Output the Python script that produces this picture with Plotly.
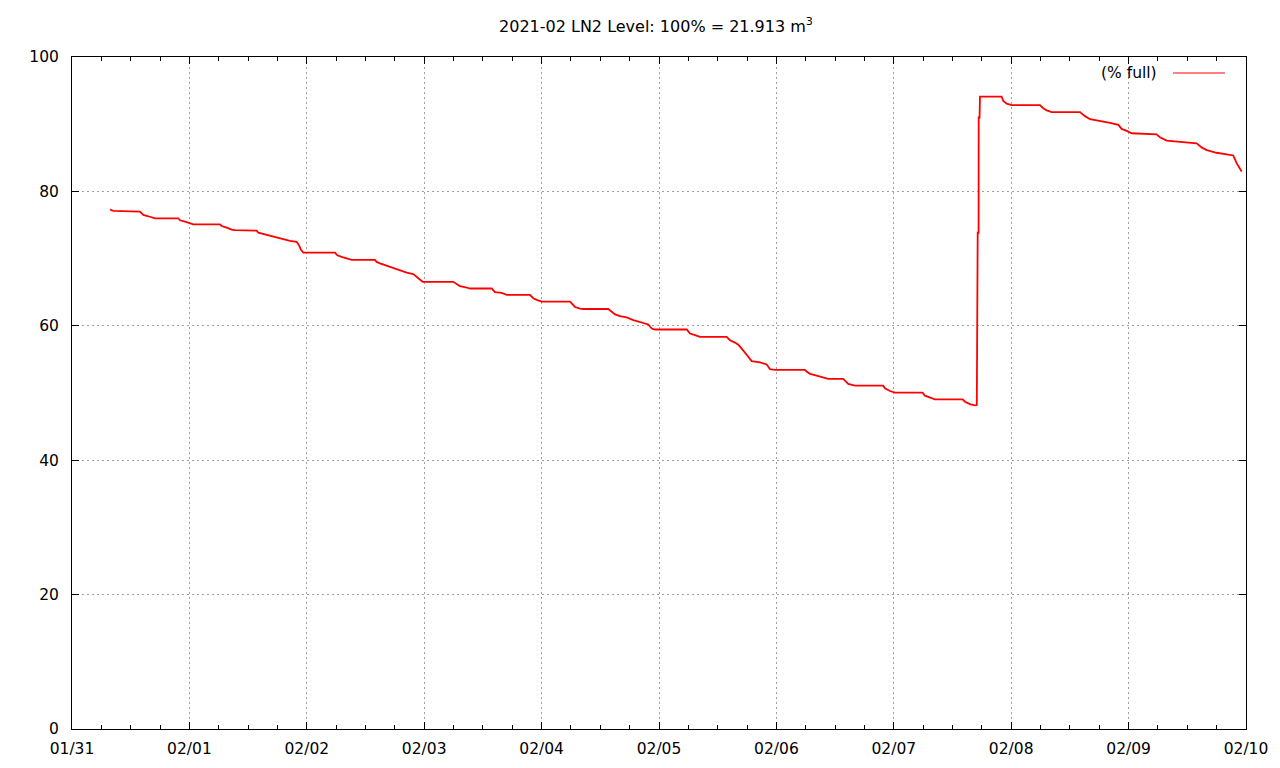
import plotly.graph_objects as go

# time stamps (2021) and LN2 level in % full
times = [
    "2021-01-31 07:46", "2021-01-31 08:26", "2021-01-31 13:54", "2021-01-31 14:15", "2021-01-31 14:35",
    "2021-01-31 15:36", "2021-01-31 16:37", "2021-01-31 16:58", "2021-01-31 21:44", "2021-01-31 22:05",
    "2021-01-31 23:06", "2021-02-01 00:07", "2021-02-01 00:48", "2021-02-01 06:15", "2021-02-01 06:36",
    "2021-02-01 07:37", "2021-02-01 08:39", "2021-02-01 09:19", "2021-02-01 13:45", "2021-02-01 14:05",
    "2021-02-01 15:07", "2021-02-01 16:29", "2021-02-01 17:51", "2021-02-01 19:12", "2021-02-01 20:34",
    "2021-02-01 21:56", "2021-02-01 22:28", "2021-02-01 22:49", "2021-02-01 23:17", "2021-02-02 05:46",
    "2021-02-02 06:14", "2021-02-02 07:08", "2021-02-02 08:29", "2021-02-02 09:11", "2021-02-02 13:57",
    "2021-02-02 14:17", "2021-02-02 14:58", "2021-02-02 15:59", "2021-02-02 16:40", "2021-02-02 18:02",
    "2021-02-02 19:24", "2021-02-02 20:25", "2021-02-02 21:46", "2021-02-02 22:28", "2021-02-02 23:08",
    "2021-02-02 23:41", "2021-02-03 05:57", "2021-02-03 06:38", "2021-02-03 07:19", "2021-02-03 08:41",
    "2021-02-03 09:22", "2021-02-03 13:48", "2021-02-03 14:28", "2021-02-03 15:50", "2021-02-03 16:52",
    "2021-02-03 21:38", "2021-02-03 22:18", "2021-02-03 23:00", "2021-02-04 00:01", "2021-02-04 05:49",
    "2021-02-04 06:22", "2021-02-04 06:50", "2021-02-04 07:51", "2021-02-04 08:32", "2021-02-04 13:38",
    "2021-02-04 14:20", "2021-02-04 15:01", "2021-02-04 16:02", "2021-02-04 17:24", "2021-02-04 18:45",
    "2021-02-04 20:07", "2021-02-04 21:08", "2021-02-04 21:49", "2021-02-04 22:31", "2021-02-04 23:11",
    "2021-02-05 05:40", "2021-02-05 06:20", "2021-02-05 07:22", "2021-02-05 08:23", "2021-02-05 13:50",
    "2021-02-05 14:31", "2021-02-05 15:32", "2021-02-05 16:13", "2021-02-05 16:54", "2021-02-05 17:35",
    "2021-02-05 18:15", "2021-02-05 18:57", "2021-02-05 20:38", "2021-02-05 22:01", "2021-02-05 22:41",
    "2021-02-05 23:43", "2021-02-06 05:50", "2021-02-06 06:11", "2021-02-06 06:52", "2021-02-06 08:14",
    "2021-02-06 09:35", "2021-02-06 10:36", "2021-02-06 13:40", "2021-02-06 14:13", "2021-02-06 14:41",
    "2021-02-06 16:04", "2021-02-06 21:51", "2021-02-06 22:11", "2021-02-06 23:13", "2021-02-07 00:14",
    "2021-02-07 05:54", "2021-02-07 06:22", "2021-02-07 07:23", "2021-02-07 08:25", "2021-02-07 14:05",
    "2021-02-07 14:33", "2021-02-07 15:34", "2021-02-07 16:35", "2021-02-07 16:58", "2021-02-07 17:00",
    "2021-02-07 17:08", "2021-02-07 17:09", "2021-02-07 17:20", "2021-02-07 17:21", "2021-02-07 17:32",
    "2021-02-07 17:33", "2021-02-07 17:37", "2021-02-07 22:03", "2021-02-07 22:23", "2021-02-07 23:05",
    "2021-02-08 00:06", "2021-02-08 05:53", "2021-02-08 06:26", "2021-02-08 07:15", "2021-02-08 08:17",
    "2021-02-08 14:04", "2021-02-08 15:05", "2021-02-08 16:07", "2021-02-08 18:09", "2021-02-08 20:12",
    "2021-02-08 21:54", "2021-02-08 22:35", "2021-02-08 23:37", "2021-02-09 00:38", "2021-02-09 05:44",
    "2021-02-09 06:25", "2021-02-09 07:47", "2021-02-09 13:55", "2021-02-09 14:56", "2021-02-09 15:58",
    "2021-02-09 18:00", "2021-02-09 20:03", "2021-02-09 21:24", "2021-02-09 22:05", "2021-02-09 23:07",
]
level = [
    77.3, 77.1, 77.0, 76.7, 76.5,
    76.3, 76.1, 76.0, 76.0, 75.7,
    75.5, 75.3, 75.1, 75.1, 74.85,
    74.6, 74.3, 74.25, 74.15, 73.85,
    73.65, 73.4, 73.15, 72.9, 72.65,
    72.5, 71.9, 71.3, 70.9, 70.9,
    70.5, 70.25, 70.0, 69.8, 69.8,
    69.5, 69.3, 69.05, 68.8, 68.5,
    68.15, 67.9, 67.7, 67.3, 66.8,
    66.55, 66.55, 66.2, 65.9, 65.7,
    65.55, 65.55, 65.0, 64.9, 64.6,
    64.6, 64.1, 63.85, 63.6, 63.6,
    63.1, 62.8, 62.55, 62.5, 62.5,
    62.1, 61.7, 61.45, 61.25, 60.85,
    60.6, 60.4, 60.2, 59.6, 59.45,
    59.45, 58.85, 58.6, 58.35, 58.35,
    57.85, 57.5, 57.2, 56.6, 55.9,
    55.4, 54.75, 54.55, 54.25, 53.55,
    53.45, 53.45, 53.2, 52.85, 52.6,
    52.35, 52.1, 52.1, 51.7, 51.35,
    51.1, 51.1, 50.7, 50.3, 50.05,
    50.05, 49.6, 49.3, 49.05, 49.05,
    48.7, 48.35, 48.15, 48.2, 57.1,
    57.1, 73.85, 73.85, 91.0, 91.0,
    94.05, 94.1, 94.1, 93.45, 93.05,
    92.85, 92.85, 92.45, 92.05, 91.8,
    91.8, 91.2, 90.75, 90.5, 90.2,
    89.9, 89.3, 89.0, 88.65, 88.5,
    88.05, 87.55, 87.15, 86.55, 86.15,
    85.75, 85.55, 85.35, 84.2, 82.95,
]

x_range = ["2021-01-31", "2021-02-10"]
y_ticks = [0, 20, 40, 60, 80, 100]
series_name = "(% full)"
title_text = "2021-02 LN2 Level: 100% = 21.913 m<sup>3</sup>"

FONT = "DejaVu Sans"
GRID = "#a0a0a0"
GRID_DASH = "2px,3px"

# the page body adds an 8px offset, so margins are compensated
L, R, T, B = 64, 42, 49, 47
PW, PH = 1280 - L - R, 768 - T - B


def px_x(px):
    return (px - 8 - L) / PW


def px_y(py):
    return (768 - B - (py - 8)) / PH


fig = go.Figure()
fig.add_trace(go.Scatter(
    x=times, y=level, mode="lines", name=series_name,
    line=dict(color="#ff0000", width=1.8), showlegend=False,
))

fig.update_layout(
    width=1280, height=768,
    margin=dict(l=L, r=R, t=T, b=B, autoexpand=False),
    paper_bgcolor="white", plot_bgcolor="white",
    font=dict(family=FONT, size=15.5, color="black"),
    title=dict(text=title_text, x=(656 - 8) / 1280, xanchor="center", y=1 - (26 - 8) / 768, yanchor="middle",
               font=dict(family=FONT, size=16, color="black")),
)

fig.update_xaxes(
    type="date", range=x_range, dtick=86400000, tick0="2021-01-31", tickformat="%m/%d",
    showline=True, linecolor="black", linewidth=1, mirror="ticks",
    ticks="inside", ticklen=7, tickcolor="black",
    showgrid=True, gridcolor=GRID, griddash=GRID_DASH, gridwidth=1,
    minor=dict(dtick=6 * 3600000, ticks="inside", ticklen=4, tickcolor="black", showgrid=False),
    zeroline=False, tickfont=dict(size=15.5), ticklabelstandoff=5,
)
fig.update_yaxes(
    range=[0, 100], tickvals=y_ticks,
    showline=True, linecolor="black", linewidth=1, mirror="ticks",
    ticks="inside", ticklen=7, tickcolor="black",
    showgrid=True, gridcolor=GRID, griddash=GRID_DASH, gridwidth=1,
    zeroline=False, tickfont=dict(size=15.5), ticklabelstandoff=9,
)

# gnuplot-style key: label followed by line sample, top right inside the frame
fig.add_annotation(
    xref="paper", yref="paper", x=px_x(1159), y=px_y(73), xanchor="right", yanchor="middle",
    text=series_name, showarrow=False, font=dict(family=FONT, size=15.5, color="black"),
)
fig.add_shape(
    type="line", xref="paper", yref="paper",
    x0=px_x(1173), x1=px_x(1225), y0=px_y(73), y1=px_y(73),
    line=dict(color="#ff0000", width=1),
)

fig.write_html("out.html")
